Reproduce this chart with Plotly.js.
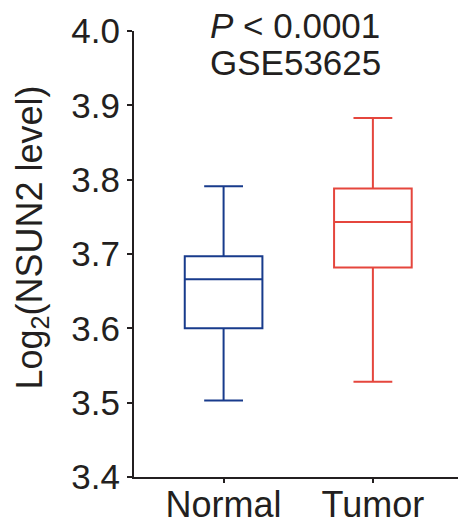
<!DOCTYPE html>
<html>
<head>
<script src="https://cdn.plot.ly/plotly-3.0.1.min.js"></script>
<style>html,body{margin:0;padding:0;background:#fff;}#chart{width:458px;height:520px;}</style>
</head>
<body>
<div id="chart"></div>
<script>
var categories = ['Normal', 'Tumor'];
var lowerFence = [3.503, 3.528];
var q1 = [3.600, 3.682];
var median = [3.666, 3.743];
var q3 = [3.697, 3.788];
var upperFence = [3.791, 3.883];
var colors = ['#183b8c', '#e5463d'];
var yTicks = [3.4, 3.5, 3.6, 3.7, 3.8, 3.9, 4.0];
var titleLines = ['<i>P</i> &lt; 0.0001', 'GSE53625'];
var yTitle = 'Log<sub>2</sub>(NSUN2 level)';

var traces = categories.map(function (c, i) {
  return {
    type: 'box',
    x: [c],
    q1: [q1[i]],
    median: [median[i]],
    q3: [q3[i]],
    lowerfence: [lowerFence[i]],
    upperfence: [upperFence[i]],
    line: {color: colors[i], width: 2},
    fillcolor: 'rgba(0,0,0,0)',
    width: 0.52,
    whiskerwidth: 0.5,
    boxpoints: false,
    hoverinfo: 'skip'
  };
});

var fam = 'Liberation Sans, Arial, sans-serif';
var ink = '#231f20';

var layout = {
  width: 458, height: 520,
  margin: {l: 134, r: 0, t: 31, b: 43},
  paper_bgcolor: '#fff', plot_bgcolor: '#fff',
  showlegend: false,
  font: {family: fam, color: ink, size: 35},
  xaxis: {
    type: 'category',
    range: [-0.6, 1.57],
    showline: true, linecolor: ink, linewidth: 2,
    ticks: 'outside', ticklen: 4, tickwidth: 2, tickcolor: ink,
    ticklabelstandoff: -9,
    showgrid: false, zeroline: false,
    tickfont: {family: fam, color: ink, size: 36},
    fixedrange: true
  },
  yaxis: {
    range: [3.4, 4.0],
    tickvals: yTicks,
    ticktext: yTicks.map(function (v) { return v.toFixed(1); }),
    showline: true, linecolor: ink, linewidth: 2,
    ticks: 'outside', ticklen: 5, tickwidth: 2, tickcolor: ink,
    showgrid: false, zeroline: false,
    tickfont: {family: fam, color: ink, size: 35},
    automargin: false,
    fixedrange: true
  },
  annotations: [
    {text: titleLines[0], xref: 'paper', yref: 'paper', x: 0.498, y: 1.012, xanchor: 'center', yanchor: 'middle', showarrow: false, font: {family: fam, color: ink, size: 35}},
    {text: titleLines[1], xref: 'paper', yref: 'paper', x: 0.498, y: 0.929, xanchor: 'center', yanchor: 'middle', showarrow: false, font: {family: fam, color: ink, size: 35}},
    {text: yTitle, xref: 'paper', yref: 'paper', x: -0.316, y: 0.536, xanchor: 'center', yanchor: 'middle', textangle: -90, showarrow: false, font: {family: fam, color: ink, size: 36}}
  ]
};

Plotly.newPlot('chart', traces, layout, {displayModeBar: false, staticPlot: true});
</script>
</body>
</html>
